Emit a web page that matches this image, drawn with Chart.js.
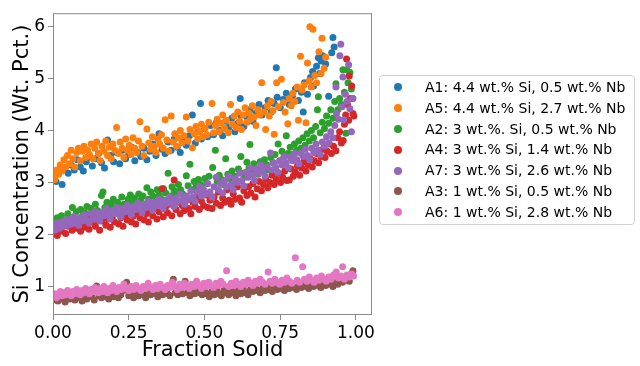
<!DOCTYPE html>
<html>
<head>
<meta charset="utf-8">
<script src="https://cdn.jsdelivr.net/npm/chart.js@4.4.1/dist/chart.umd.min.js"></script>
<style>
  body { margin: 0; background: #fff; }
  #wrap { position: relative; width: 640px; height: 366px; }
  #legend {
    position: absolute; left: 379px; top: 75px; width: 256px; height: 150px;
    box-sizing: border-box; border: 1px solid #d2d2d2; border-radius: 4px;
    padding-top: 1px; font: 14px "DejaVu Sans", sans-serif; color: #000;
  }
  .row { position: relative; height: 20.8px; line-height: 20.8px; padding-left: 45px; white-space: nowrap; }
  .dot { position: absolute; left: 14px; top: 6.4px; width: 8px; height: 8px; border-radius: 50%; }
</style>
</head>
<body>
<div id="wrap">
  <canvas id="c" width="640" height="366"></canvas>
  <div id="legend"></div>
</div>
<script>
const labels = [
  'A1: 4.4 wt.% Si, 0.5 wt.% Nb',
  'A5: 4.4 wt.% Si, 2.7 wt.% Nb',
  'A2: 3 wt.%. Si, 0.5 wt.% Nb',
  'A4: 3 wt.% Si, 1.4 wt.% Nb',
  'A7: 3 wt.% Si, 2.6 wt.% Nb',
  'A3: 1 wt.% Si, 0.5 wt.% Nb',
  'A6: 1 wt.% Si, 2.8 wt.% Nb'
];
const colors = ['#1f77b4', '#ff7f0e', '#2ca02c', '#d62728', '#9467bd', '#8c564b', '#e377c2'];
const xTicks = [0, 0.25, 0.5, 0.75, 1.0];
const yTicks = [1, 2, 3, 4, 5, 6];

// [fraction solid, Si wt.%]
const a1 = [[0.00,3.12],[0.01,3.02],[0.02,3.20],[0.03,2.96],[0.04,3.28],[0.05,3.18],[0.06,3.34],[0.07,3.24],[0.08,3.44],[0.09,3.30],[0.10,3.22],[0.11,3.40],[0.12,3.50],[0.13,3.32],[0.14,3.46],[0.15,3.56],[0.16,3.38],[0.17,3.28],[0.18,3.82],[0.19,3.52],[0.20,3.40],[0.21,3.58],[0.22,3.36],[0.23,3.62],[0.24,3.46],[0.25,3.54],[0.26,3.68],[0.27,3.42],[0.28,3.58],[0.29,3.50],[0.30,3.66],[0.31,3.44],[0.32,3.60],[0.33,3.74],[0.34,3.52],[0.35,3.94],[0.36,3.64],[0.37,3.56],[0.38,3.78],[0.39,3.62],[0.40,3.84],[0.41,3.68],[0.42,3.58],[0.43,3.80],[0.44,3.72],[0.45,3.90],[0.46,4.30],[0.47,3.76],[0.48,3.98],[0.487,4.52],[0.49,3.84],[0.50,4.04],[0.51,3.88],[0.52,4.10],[0.53,3.92],[0.54,4.16],[0.55,4.00],[0.56,3.90],[0.57,4.18],[0.58,4.06],[0.59,4.24],[0.60,3.98],[0.61,4.14],[0.618,4.62],[0.62,4.30],[0.63,4.08],[0.64,4.26],[0.65,4.40],[0.66,4.18],[0.67,4.34],[0.68,4.50],[0.69,4.30],[0.70,4.44],[0.71,4.58],[0.72,4.36],[0.73,4.52],[0.737,5.21],[0.74,4.64],[0.75,4.44],[0.76,4.60],[0.77,4.72],[0.78,4.50],[0.79,4.66],[0.80,4.80],[0.81,4.58],[0.82,4.74],[0.826,4.36],[0.83,4.92],[0.84,4.70],[0.85,5.02],[0.857,5.14],[0.86,4.86],[0.87,5.24],[0.876,5.40],[0.88,5.10],[0.885,5.34],[0.89,5.44],[0.90,5.28],[0.91,4.66],[0.92,5.50],[0.924,5.79],[0.928,5.61]];

const a5 = [[0.000,3.14],[0.006,3.06],[0.012,3.24],[0.018,3.16],[0.024,3.34],[0.030,3.22],[0.036,3.44],[0.042,3.30],[0.048,3.52],[0.054,3.36],[0.060,3.62],[0.066,3.46],[0.072,3.30],[0.078,3.58],[0.084,3.66],[0.090,3.42],[0.096,3.60],[0.102,3.70],[0.108,3.48],[0.114,3.62],[0.120,3.54],[0.126,3.74],[0.132,3.46],[0.138,3.66],[0.144,3.78],[0.150,3.56],[0.156,3.42],[0.162,3.70],[0.168,3.60],[0.174,3.80],[0.180,3.52],[0.186,3.68],[0.192,3.46],[0.198,3.74],[0.204,3.62],[0.210,4.06],[0.216,3.56],[0.222,3.78],[0.228,3.66],[0.234,3.48],[0.240,3.84],[0.246,3.62],[0.252,3.72],[0.258,3.54],[0.264,3.86],[0.270,3.66],[0.276,3.58],[0.282,3.80],[0.287,4.17],[0.294,3.70],[0.300,3.52],[0.310,4.03],[0.316,3.76],[0.322,3.64],[0.328,3.88],[0.334,3.70],[0.340,3.58],[0.346,3.84],[0.352,3.74],[0.358,3.92],[0.364,3.66],[0.370,4.21],[0.376,3.82],[0.382,3.60],[0.390,4.28],[0.396,3.78],[0.402,3.94],[0.408,3.70],[0.414,3.86],[0.420,4.00],[0.426,3.76],[0.432,3.90],[0.440,4.26],[0.446,3.80],[0.452,4.02],[0.460,3.67],[0.466,3.94],[0.472,4.08],[0.478,3.84],[0.484,3.98],[0.490,4.12],[0.496,3.88],[0.502,4.04],[0.508,3.92],[0.514,4.16],[0.525,4.52],[0.530,3.96],[0.536,4.10],[0.542,4.22],[0.548,3.98],[0.554,4.14],[0.560,4.30],[0.566,4.04],[0.572,4.20],[0.578,3.96],[0.586,4.50],[0.592,4.12],[0.598,4.28],[0.604,4.06],[0.610,4.36],[0.616,4.18],[0.622,4.02],[0.628,4.30],[0.634,4.44],[0.640,4.16],[0.646,4.34],[0.652,4.22],[0.658,4.48],[0.664,4.26],[0.670,4.10],[0.676,4.40],[0.682,4.30],[0.689,4.92],[0.696,4.36],[0.702,4.02],[0.708,4.48],[0.714,4.28],[0.720,4.56],[0.726,4.38],[0.730,3.93],[0.738,4.92],[0.744,4.46],[0.754,4.99],[0.760,4.54],[0.766,4.36],[0.775,4.13],[0.780,4.62],[0.786,4.48],[0.792,4.72],[0.798,4.56],[0.806,4.84],[0.810,4.20],[0.817,5.43],[0.822,4.78],[0.828,4.88],[0.835,4.15],[0.840,5.30],[0.846,4.96],[0.848,6.00],[0.852,4.84],[0.858,5.95],[0.864,5.06],[0.870,4.92],[0.878,5.52],[0.885,5.10],[0.888,5.78],[0.895,5.20],[0.900,5.41]];

const a2 = [[0.000,2.26],[0.007,2.18],[0.014,2.32],[0.021,2.22],[0.028,2.36],[0.035,2.28],[0.042,2.20],[0.049,2.40],[0.056,2.30],[0.064,2.52],[0.070,2.34],[0.077,2.44],[0.084,2.28],[0.091,2.48],[0.098,2.36],[0.105,2.42],[0.112,2.54],[0.119,2.38],[0.126,2.50],[0.133,2.40],[0.140,2.58],[0.147,2.46],[0.154,2.36],[0.160,2.75],[0.165,2.82],[0.171,2.52],[0.178,2.62],[0.185,2.48],[0.192,2.58],[0.199,2.68],[0.206,2.50],[0.213,2.62],[0.220,2.56],[0.227,2.72],[0.234,2.58],[0.241,2.50],[0.248,2.68],[0.255,2.76],[0.262,2.60],[0.269,2.70],[0.276,2.56],[0.283,2.78],[0.290,2.66],[0.297,2.74],[0.310,2.90],[0.316,2.68],[0.323,2.82],[0.330,2.74],[0.337,2.62],[0.344,2.86],[0.351,2.76],[0.358,2.68],[0.365,2.88],[0.372,2.80],[0.380,3.18],[0.386,2.74],[0.393,2.92],[0.400,2.84],[0.407,2.76],[0.414,2.96],[0.421,2.86],[0.428,2.78],[0.440,3.13],[0.446,2.94],[0.452,3.35],[0.459,2.86],[0.466,3.02],[0.473,2.92],[0.480,3.06],[0.487,2.96],[0.494,2.86],[0.501,3.08],[0.508,2.98],[0.515,3.12],[0.527,3.29],[0.536,3.62],[0.542,3.02],[0.549,3.14],[0.556,3.06],[0.563,2.96],[0.570,3.46],[0.577,3.16],[0.584,3.08],[0.591,3.22],[0.598,3.12],[0.605,3.02],[0.612,3.26],[0.620,3.50],[0.626,3.18],[0.633,3.10],[0.640,3.39],[0.647,3.28],[0.650,3.73],[0.656,3.20],[0.663,3.36],[0.670,3.26],[0.677,3.16],[0.684,3.40],[0.691,3.30],[0.698,3.44],[0.705,3.34],[0.712,3.24],[0.719,3.48],[0.726,3.38],[0.733,3.54],[0.743,3.74],[0.749,3.42],[0.756,3.60],[0.763,3.50],[0.770,3.90],[0.776,3.56],[0.783,3.68],[0.790,3.54],[0.797,3.74],[0.804,3.62],[0.811,3.80],[0.818,3.66],[0.825,3.86],[0.832,3.72],[0.839,3.94],[0.846,3.80],[0.853,4.00],[0.860,3.86],[0.867,4.08],[0.873,4.40],[0.876,4.65],[0.882,3.96],[0.889,4.16],[0.896,4.04],[0.903,4.28],[0.910,4.14],[0.917,4.40],[0.924,4.24],[0.930,4.56],[0.934,4.90],[0.940,4.40],[0.946,4.62],[0.952,4.50],[0.957,5.17],[0.962,4.74],[0.967,3.95],[0.970,5.17],[0.974,4.92],[0.980,5.12],[0.985,4.80],[0.990,4.62]];

const a4 = [[0.000,2.04],[0.007,2.12],[0.014,1.98],[0.021,2.14],[0.028,2.06],[0.035,2.20],[0.042,2.02],[0.049,2.16],[0.056,2.24],[0.063,2.08],[0.070,2.20],[0.077,2.12],[0.084,2.28],[0.091,2.06],[0.098,2.22],[0.105,2.14],[0.112,2.30],[0.119,2.10],[0.126,2.24],[0.133,2.34],[0.140,2.16],[0.147,2.28],[0.154,2.08],[0.161,2.26],[0.168,2.38],[0.175,2.18],[0.182,2.30],[0.189,2.14],[0.196,2.34],[0.203,2.24],[0.210,2.42],[0.217,2.20],[0.224,2.32],[0.231,2.16],[0.238,2.38],[0.245,2.28],[0.252,2.46],[0.259,2.24],[0.266,2.36],[0.273,2.20],[0.280,2.42],[0.287,2.32],[0.294,2.50],[0.301,2.28],[0.308,2.40],[0.315,2.24],[0.322,2.46],[0.329,2.36],[0.336,2.54],[0.343,2.30],[0.350,2.44],[0.360,2.88],[0.364,2.34],[0.371,2.52],[0.378,2.42],[0.385,2.58],[0.392,2.36],[0.400,3.05],[0.406,2.48],[0.413,2.62],[0.420,2.40],[0.427,2.56],[0.434,2.46],[0.441,2.66],[0.448,2.50],[0.455,2.40],[0.462,2.62],[0.469,2.54],[0.476,2.72],[0.483,2.48],[0.490,2.64],[0.497,2.56],[0.504,2.76],[0.511,2.52],[0.518,2.66],[0.525,2.50],[0.532,2.72],[0.539,2.60],[0.546,2.82],[0.553,2.56],[0.560,2.70],[0.567,2.62],[0.574,2.86],[0.581,2.66],[0.588,2.58],[0.595,2.78],[0.602,2.68],[0.609,2.92],[0.616,2.70],[0.623,2.62],[0.630,2.84],[0.640,2.75],[0.646,2.92],[0.653,2.80],[0.660,2.98],[0.667,2.72],[0.674,2.88],[0.681,3.02],[0.688,2.84],[0.695,2.96],[0.702,3.08],[0.709,2.90],[0.716,3.00],[0.723,3.14],[0.730,2.96],[0.737,3.06],[0.744,3.18],[0.751,3.00],[0.758,3.10],[0.765,3.22],[0.772,3.04],[0.780,3.05],[0.786,3.26],[0.793,3.12],[0.800,3.20],[0.807,3.32],[0.814,3.14],[0.821,3.28],[0.828,3.40],[0.835,3.22],[0.842,3.34],[0.849,3.46],[0.856,3.30],[0.863,3.42],[0.870,3.56],[0.877,3.38],[0.884,3.50],[0.891,3.64],[0.898,3.48],[0.905,3.60],[0.912,3.74],[0.919,3.56],[0.926,3.70],[0.934,3.61],[0.940,3.86],[0.946,3.98],[0.952,3.76],[0.958,3.81],[0.962,4.12],[0.966,4.30],[0.969,5.38],[0.972,4.50],[0.976,4.20],[0.978,5.05],[0.982,4.62],[0.986,4.86],[0.990,4.33],[0.993,4.28]];

const a7 = [[0.000,2.16],[0.007,2.08],[0.014,2.22],[0.021,2.12],[0.028,2.24],[0.035,2.16],[0.042,2.28],[0.049,2.18],[0.056,2.30],[0.063,2.20],[0.070,2.34],[0.077,2.24],[0.084,2.18],[0.091,2.32],[0.098,2.26],[0.105,2.38],[0.112,2.28],[0.119,2.22],[0.126,2.40],[0.133,2.30],[0.140,2.44],[0.147,2.34],[0.154,2.26],[0.161,2.42],[0.168,2.36],[0.175,2.50],[0.182,2.38],[0.189,2.30],[0.196,2.46],[0.203,2.40],[0.210,2.52],[0.217,2.42],[0.224,2.34],[0.231,2.50],[0.238,2.44],[0.245,2.56],[0.252,2.46],[0.259,2.38],[0.266,2.54],[0.273,2.48],[0.280,2.60],[0.287,2.50],[0.294,2.42],[0.301,2.58],[0.308,2.52],[0.315,2.64],[0.322,2.54],[0.329,2.46],[0.336,2.62],[0.343,2.56],[0.350,2.68],[0.357,2.58],[0.364,2.50],[0.371,2.66],[0.378,2.60],[0.385,2.72],[0.392,2.62],[0.399,2.54],[0.406,2.70],[0.413,2.64],[0.420,2.78],[0.427,2.66],[0.434,2.58],[0.441,2.74],[0.448,2.68],[0.455,2.84],[0.462,2.72],[0.469,2.64],[0.476,2.82],[0.483,2.92],[0.490,2.74],[0.497,2.86],[0.504,2.78],[0.511,2.98],[0.518,2.82],[0.525,2.72],[0.532,2.92],[0.539,3.10],[0.546,2.86],[0.553,2.98],[0.560,2.80],[0.567,3.04],[0.574,2.92],[0.581,3.12],[0.588,2.96],[0.595,2.86],[0.602,3.08],[0.609,3.00],[0.616,3.18],[0.623,3.04],[0.630,2.94],[0.637,3.20],[0.644,3.10],[0.651,3.28],[0.658,3.14],[0.665,3.04],[0.672,3.26],[0.679,3.18],[0.686,3.34],[0.693,3.22],[0.700,3.12],[0.707,3.30],[0.718,3.57],[0.721,3.24],[0.728,3.38],[0.735,3.30],[0.742,3.20],[0.749,3.42],[0.756,3.34],[0.763,3.50],[0.770,3.38],[0.777,3.28],[0.784,3.48],[0.791,3.42],[0.798,3.56],[0.805,3.44],[0.812,3.36],[0.819,3.56],[0.826,3.50],[0.833,3.64],[0.840,3.52],[0.847,3.44],[0.854,3.66],[0.861,3.58],[0.868,3.74],[0.875,3.62],[0.882,3.54],[0.889,3.78],[0.896,3.70],[0.903,3.88],[0.910,3.76],[0.917,3.98],[0.924,3.86],[0.930,4.10],[0.934,4.84],[0.936,4.33],[0.942,4.22],[0.947,5.44],[0.950,5.66],[0.954,4.46],[0.957,5.03],[0.960,4.21],[0.965,4.70],[0.970,4.56],[0.976,5.27],[0.980,4.42],[0.985,3.98],[0.988,4.62]];

const a3 = [[0.000,0.74],[0.008,0.78],[0.016,0.72],[0.024,0.80],[0.032,0.76],[0.040,0.70],[0.048,0.82],[0.056,0.76],[0.064,0.80],[0.072,0.74],[0.080,0.84],[0.088,0.78],[0.096,0.72],[0.104,0.82],[0.112,0.76],[0.120,0.86],[0.128,0.80],[0.136,0.74],[0.144,1.01],[0.152,0.82],[0.160,0.78],[0.168,0.86],[0.176,0.80],[0.184,0.76],[0.192,0.84],[0.200,0.80],[0.208,0.88],[0.216,0.78],[0.224,0.84],[0.232,0.92],[0.243,1.08],[0.250,0.82],[0.258,0.86],[0.266,0.78],[0.274,0.88],[0.282,0.82],[0.290,0.92],[0.298,0.84],[0.306,0.78],[0.314,0.88],[0.322,0.84],[0.330,0.94],[0.338,0.86],[0.346,0.80],[0.354,0.90],[0.362,0.84],[0.370,0.96],[0.378,0.86],[0.386,0.82],[0.397,1.14],[0.404,0.88],[0.412,0.84],[0.420,0.92],[0.428,0.86],[0.436,1.10],[0.444,0.88],[0.452,0.82],[0.460,0.92],[0.468,0.86],[0.476,0.96],[0.484,0.88],[0.492,0.84],[0.500,0.92],[0.508,0.86],[0.516,0.80],[0.524,0.90],[0.532,0.84],[0.540,0.94],[0.548,0.86],[0.556,0.82],[0.564,0.92],[0.572,0.88],[0.580,0.84],[0.588,0.94],[0.596,0.88],[0.604,0.82],[0.612,0.92],[0.620,0.86],[0.628,0.96],[0.636,0.88],[0.644,0.84],[0.652,0.94],[0.660,0.90],[0.668,1.00],[0.676,0.92],[0.684,0.88],[0.692,0.96],[0.700,0.92],[0.708,1.02],[0.716,0.94],[0.724,0.90],[0.732,0.98],[0.740,0.94],[0.748,1.04],[0.756,0.96],[0.764,0.92],[0.772,1.00],[0.780,0.96],[0.788,1.06],[0.796,0.98],[0.804,0.94],[0.812,1.02],[0.820,0.98],[0.828,1.08],[0.836,1.00],[0.844,0.96],[0.852,1.04],[0.860,1.00],[0.868,1.10],[0.876,1.02],[0.884,0.98],[0.892,1.06],[0.900,1.02],[0.908,1.12],[0.916,1.04],[0.924,1.00],[0.932,1.08],[0.940,1.04],[0.948,1.14],[0.956,1.08],[0.964,1.12],[0.972,1.18],[0.978,1.10],[0.984,1.24],[0.990,1.30]];

const a6 = [[0.000,0.80],[0.006,0.86],[0.012,0.78],[0.018,0.84],[0.024,0.90],[0.030,0.82],[0.036,0.88],[0.042,0.84],[0.048,0.92],[0.054,0.86],[0.060,0.82],[0.066,0.90],[0.072,0.86],[0.078,0.94],[0.084,0.88],[0.090,0.84],[0.096,0.92],[0.102,0.88],[0.108,0.96],[0.114,0.90],[0.120,0.86],[0.126,0.94],[0.132,0.90],[0.138,0.98],[0.144,0.92],[0.150,0.88],[0.156,0.96],[0.162,0.90],[0.168,1.00],[0.174,0.94],[0.180,0.88],[0.186,0.96],[0.192,0.92],[0.198,1.02],[0.204,0.94],[0.210,0.90],[0.218,0.98],[0.226,0.94],[0.234,1.04],[0.242,0.96],[0.250,0.92],[0.258,1.00],[0.266,0.94],[0.274,1.02],[0.282,0.96],[0.290,0.92],[0.298,1.00],[0.306,0.96],[0.314,1.06],[0.322,0.98],[0.330,0.94],[0.338,1.02],[0.346,0.96],[0.354,1.04],[0.362,0.98],[0.370,0.94],[0.378,1.02],[0.386,0.98],[0.394,1.08],[0.402,1.00],[0.410,0.94],[0.418,1.04],[0.426,0.98],[0.434,1.06],[0.442,1.00],[0.450,0.96],[0.458,1.04],[0.466,1.00],[0.474,1.10],[0.482,1.02],[0.490,0.96],[0.498,1.06],[0.506,1.00],[0.514,1.08],[0.522,1.02],[0.530,0.98],[0.538,1.06],[0.546,1.02],[0.554,1.10],[0.562,1.04],[0.573,1.30],[0.580,1.00],[0.588,1.06],[0.596,1.02],[0.604,1.10],[0.612,1.04],[0.620,1.00],[0.628,1.08],[0.636,1.04],[0.644,1.12],[0.652,1.06],[0.660,1.02],[0.668,1.10],[0.676,1.06],[0.684,1.14],[0.692,1.08],[0.700,1.04],[0.710,1.28],[0.716,1.10],[0.724,1.06],[0.732,1.14],[0.740,1.08],[0.748,1.04],[0.756,1.12],[0.764,1.08],[0.772,1.16],[0.780,1.10],[0.788,1.06],[0.800,1.55],[0.806,1.12],[0.814,1.08],[0.824,1.38],[0.830,1.14],[0.838,1.10],[0.846,1.18],[0.854,1.12],[0.862,1.08],[0.870,1.16],[0.878,1.12],[0.886,1.20],[0.894,1.14],[0.902,1.10],[0.910,1.18],[0.918,1.14],[0.926,1.22],[0.935,1.28],[0.942,1.16],[0.950,1.20],[0.956,1.38],[0.962,1.14],[0.970,1.22],[0.978,1.18],[0.986,1.24],[0.992,1.20]];

const series = [a1, a5, a2, a4, a7, a3, a6];
const font = '"DejaVu Sans", sans-serif';
const axisGray = '#8a8a8a';

// box around the plot area, drawn over the points like matplotlib spines
const frame = {
  id: 'frame',
  afterDatasetsDraw(chart) {
    const a = chart.chartArea, c = chart.ctx;
    c.save();
    c.strokeStyle = axisGray;
    c.lineWidth = 1;
    c.strokeRect(a.left + 0.5, a.top + 0.5, a.right - a.left - 1, a.bottom - a.top - 1);
    c.restore();
  }
};

const datasets = series.map((pts, i) => ({
  label: labels[i],
  data: pts.map(p => ({x: p[0], y: p[1]})),
  backgroundColor: colors[i],
  borderWidth: 0,
  pointRadius: 3.5,
  order: series.length - i
}));

new Chart(document.getElementById('c').getContext('2d'), {
  type: 'scatter',
  data: {datasets: datasets},
  options: {
    responsive: false,
    animation: false,
    layout: {padding: {top: 6, right: 268, left: 0, bottom: 0}},
    plugins: {legend: {display: false}, tooltip: {enabled: false}},
    scales: {
      x: {
        type: 'linear', min: 0, max: 1.053,
        afterFit(s) { s.height = 51; },
        afterBuildTicks(s) { s.ticks = xTicks.map(v => ({value: v})); },
        grid: {drawOnChartArea: false, tickLength: 5, color: axisGray},
        border: {display: false},
        ticks: {color: '#000', padding: 3, maxRotation: 0, font: {family: font, size: 17},
                callback: v => Number(v).toFixed(2)},
        title: {display: true, text: 'Fraction Solid', color: '#000',
                font: {family: font, size: 21}, padding: {top: 0, bottom: 3}}
      },
      y: {
        type: 'linear', min: 0.45, max: 6.26,
        afterFit(s) { s.width = 53; },
        afterBuildTicks(s) { s.ticks = yTicks.map(v => ({value: v})); },
        grid: {drawOnChartArea: false, tickLength: 5, color: axisGray},
        border: {display: false},
        ticks: {color: '#000', padding: 3, font: {family: font, size: 17},
                callback: v => String(v)},
        title: {display: true, text: 'Si Concentration (Wt. Pct.)', color: '#000',
                font: {family: font, size: 21}, padding: {top: 10, bottom: 0}}
      }
    }
  },
  plugins: [frame]
});

const legend = document.getElementById('legend');
labels.forEach((txt, i) => {
  const row = document.createElement('div');
  row.className = 'row';
  row.innerHTML = '<span class="dot" style="background:' + colors[i] + '"></span>' + txt;
  legend.appendChild(row);
});
</script>
</body>
</html>
